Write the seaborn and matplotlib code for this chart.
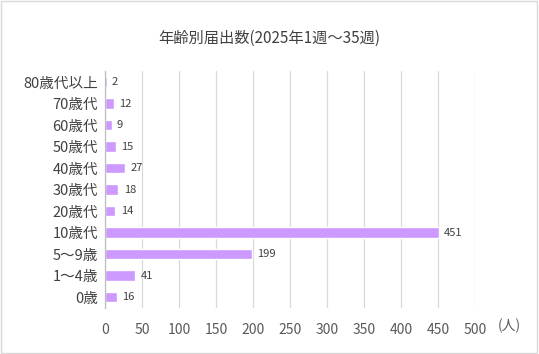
import pandas as pd
import matplotlib.pyplot as plt
import seaborn as sns
from matplotlib.patches import Rectangle

# Data (top to bottom as shown in the chart)
age_groups = ['80歳代以上', '70歳代', '60歳代', '50歳代', '40歳代', '30歳代',
              '20歳代', '10歳代', '5～9歳', '1～4歳', '0歳']
counts = [2, 12, 9, 15, 27, 18, 14, 451, 199, 41, 16]
x_ticks = list(range(0, 501, 50))

df = pd.DataFrame({'age': age_groups, 'count': counts})

sns.set_theme(style='white')
plt.rcParams['font.family'] = ['Noto Sans CJK JP', 'DejaVu Sans']

fig = plt.figure(figsize=(5.39, 3.54), dpi=100)
ax = fig.add_axes([0.195, 0.1306, 0.686, 0.668])

sns.barplot(data=df, x='count', y='age', order=age_groups, orient='h',
            color='#CC99FF', saturation=1, width=0.5, ax=ax)

# Value labels
for i, v in enumerate(counts):
    ax.text(v + 7, i, str(v), va='center', ha='left', fontsize=8, color='#404040')

ax.set_xlim(0, 500)
ax.set_ylim(len(age_groups) - 0.5, -0.5)
ax.set_xticks(x_ticks)
ax.set_xticklabels([str(t) for t in x_ticks], fontsize=10, color='#595959')
ax.tick_params(axis='x', length=0, pad=11)
ax.set_yticks(range(len(age_groups)))
ax.set_yticklabels(age_groups, fontsize=10.5, color='#404040')
ax.tick_params(axis='y', which='major', length=0, pad=5)
ax.set_yticks([i + 0.5 for i in range(-1, len(age_groups))], minor=True)
ax.tick_params(axis='y', which='minor', length=4, color='#BFBFBF', width=0.8)
ax.set_xlabel('')
ax.set_ylabel('')

ax.grid(axis='x', color='#D9D9D9', linewidth=0.9)
ax.set_axisbelow(True)
for s in ['top', 'right', 'bottom']:
    ax.spines[s].set_visible(False)
ax.spines['left'].set_color('#BFBFBF')
ax.spines['left'].set_linewidth(0.9)

ax.text(1.092, -0.078, '(人)', transform=ax.transAxes, fontsize=10,
        color='#595959', ha='center', va='center')

fig.suptitle('年齢別届出数(2025年1週～35週)', y=0.892, va='center',
             fontsize=11, color='#404040')

# Light border around the chart area
fig.patches.append(Rectangle((0.002, 0.003), 0.995, 0.994, transform=fig.transFigure,
                             fill=False, edgecolor='#D9D9D9', linewidth=1))

plt.savefig('out.png', dpi=100)
